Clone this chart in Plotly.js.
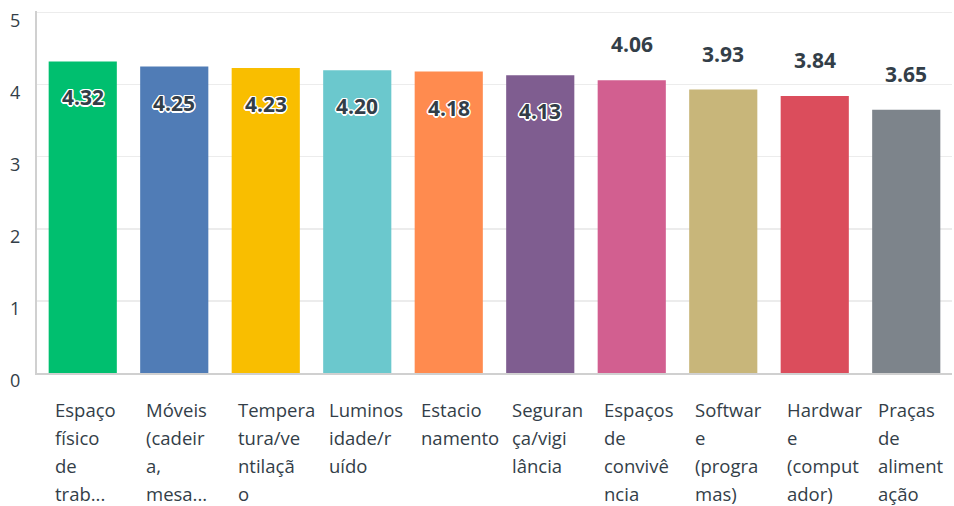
<!DOCTYPE html>
<html>
<head>
<meta charset="utf-8">
<script src="https://cdn.plot.ly/plotly-3.0.1.min.js"></script>
<style>html,body{margin:0;padding:0;background:#fff;}</style>
</head>
<body>
<div id="chart" style="width:954px;height:506px;"></div>
<script>
const categories = [
  "Espaço físico de trab...",
  "Móveis (cadeira, mesa...",
  "Temperatura/ventilação",
  "Luminosidade/ruído",
  "Estacionamento",
  "Segurança/vigilância",
  "Espaços de convivência",
  "Software (programas)",
  "Hardware (computador)",
  "Praças de alimentação"
];
const labelLines = [
  ["Espaço", "físico", "de", "trab..."],
  ["Móveis", "(cadeir", "a,", "mesa..."],
  ["Tempera", "tura/ve", "ntilaçã", "o"],
  ["Luminos", "idade/r", "uído"],
  ["Estacio", "namento"],
  ["Seguran", "ça/vigi", "lância"],
  ["Espaços", "de", "convivê", "ncia"],
  ["Softwar", "e", "(progra", "mas)"],
  ["Hardwar", "e", "(comput", "ador)"],
  ["Praças", "de", "aliment", "ação"]
];
const values = [4.32, 4.25, 4.23, 4.20, 4.18, 4.13, 4.06, 3.93, 3.84, 3.65];
const colors = ["#00BF6F", "#507CB6", "#F9BE00", "#6BC8CD", "#FF8B4F", "#7F5D90", "#D25F90", "#C8B67A", "#DB4D5C", "#7D848B"];
const yTicks = [0, 1, 2, 3, 4, 5];

const textColor = "#333e48";
const fontFam = "'Open Sans', 'Noto Sans', sans-serif";
const outline = "-1px -1px 0 #fff, 1px -1px 0 #fff, -1px 1px 0 #fff, 1px 1px 0 #fff, 0 -1.5px 0 #fff, 0 1.5px 0 #fff, -1.5px 0 0 #fff, 1.5px 0 0 #fff";

const annotations = [];
values.forEach((v, i) => {
  const inside = v >= 4.1;
  annotations.push({
    x: categories[i], y: v, xref: "x", yref: "y",
    text: v.toFixed(2), showarrow: false,
    xanchor: "center", yanchor: "middle",
    yshift: inside ? -36 : 36,
    font: {family: fontFam, size: 21, color: textColor, weight: 700, shadow: inside ? outline : "none"}
  });
});
labelLines.forEach((lines, i) => {
  lines.forEach((ln, j) => {
    annotations.push({
      x: categories[i], y: 0, xref: "x", yref: "paper",
      text: ln, showarrow: false, borderpad: 0,
      xanchor: "left", yanchor: "middle",
      xshift: -29, yshift: -36.5 - 27.9 * j,
      font: {family: fontFam, size: 18.5, color: textColor}
    });
  });
});

const trace = {
  type: "bar",
  x: categories,
  y: values,
  marker: {color: colors},
  hoverinfo: "none"
};

const layout = {
  width: 954, height: 506,
  margin: {l: 37, r: 2, t: 11, b: 133},
  paper_bgcolor: "#fff", plot_bgcolor: "#fff",
  showlegend: false,
  bargap: 0.255,
  font: {family: fontFam, color: textColor},
  xaxis: {
    showticklabels: false, ticks: "", showgrid: false,
    showline: true, linecolor: "#d0d0d0", linewidth: 2,
    zeroline: false, fixedrange: true
  },
  yaxis: {
    range: [0, 5.02], tickvals: yTicks, ticktext: yTicks.map(String),
    showgrid: true, gridcolor: "#ececec", gridwidth: 1.5,
    showline: true, linecolor: "#d0d0d0", linewidth: 2,
    zeroline: false, ticks: "",
    ticklabelstandoff: 11, ticklabelshift: 8,
    tickfont: {family: fontFam, size: 18, color: textColor},
    fixedrange: true
  },
  annotations: annotations
};

Plotly.newPlot("chart", [trace], layout, {staticPlot: true, displayModeBar: false});
</script>
</body>
</html>
